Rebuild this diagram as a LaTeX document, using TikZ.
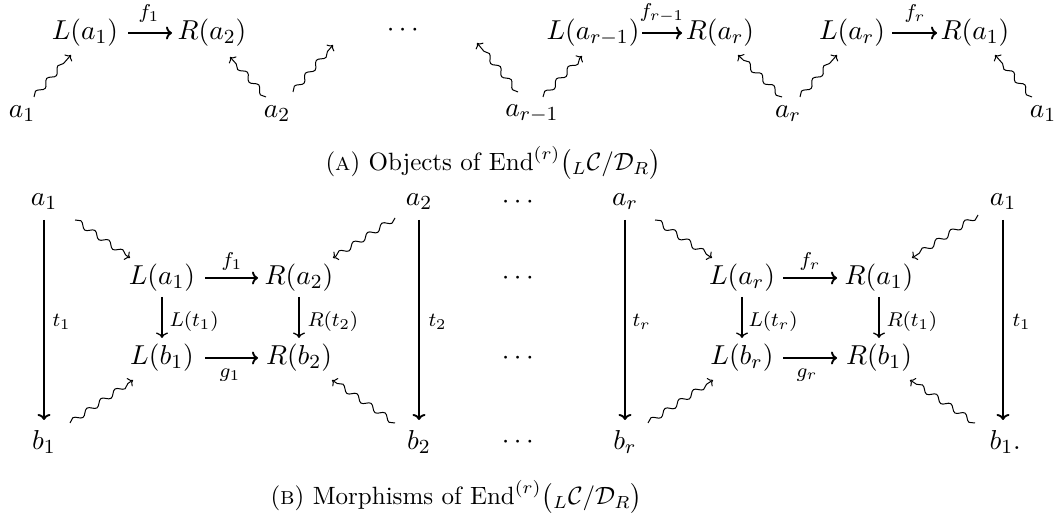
\documentclass[tikz,border=0pt]{standalone}
\usepackage{fontspec}
\usepackage{amsmath}
\usetikzlibrary{decorations.pathmorphing,calc,arrows.meta}
\tikzset{
  obj/.style={inner sep=0pt, font=\fontsize{10.95}{13}\selectfont},
  lbl/.style={inner sep=0pt, font=\fontsize{8}{10}\selectfont},
  capt/.style={inner sep=0pt, anchor=west, font=\fontsize{10}{12}\selectfont},
  mor/.style={-{To[length=2.4pt,width=5.2pt]}, line width=0.75pt},
  smor/.style={-{To[length=2.2pt,width=4.8pt]}, line width=0.5pt},
  squig/.style={-{To[length=1.8pt,width=4pt]}, line width=0.4pt, decorate,
    decoration={snake, amplitude=1.1pt, segment length=6.8pt, post length=1.2pt}},
}
\begin{document}
\begin{tikzpicture}[x=0.4pt,y=-0.4pt]
\useasboundingbox (0,0) rectangle (1059,517);
% ---------- (A) top row
\node[obj] (La1t) at (85,33) {$L(a_1)$};
\node[obj] (Ra2t) at (212,33) {$R(a_2)$};
\node[obj] (a1t) at (22,114) {$a_1$};
\node[obj] (a2t) at (277,114) {$a_2$};
\node[obj] (dotst) at (405,30) {$\cdots$};
\node[obj] (art1) at (532,114) {$a_{r-1}$};
\node[obj] (Lart1) at (593,33) {$L(a_{r-1})$};
\node[obj] (Rart) at (720,33) {$R(a_r)$};
\node[obj] (art) at (788,114) {$a_r$};
\node[obj] (Lart) at (852,33) {$L(a_r)$};
\node[obj] (Ra1t) at (975,33) {$R(a_1)$};
\node[obj] (a1tr) at (1043,114) {$a_1$};
\coordinate (fe1) at (333,45);
\coordinate (fe2) at (477,43);
\node[lbl] (lf1t) at (149,14) {$f_1$};
\node[lbl] (lfr1t) at (662,13) {$f_{r-1}$};
\node[lbl] (lfrt) at (915,14) {$f_r$};
\draw[mor] ($(La1t)+(43,0)$) -- ($(Ra2t)+(-40,0)$);
\draw[mor] ($(Lart1)+(49,0)$) -- ($(Rart)+(-38,0)$);
\draw[mor] ($(Lart)+(40,0)$) -- ($(Ra1t)+(-38,0)$);
\draw[squig] ($(a1t)+(12,-17)$) -- ($(La1t)+(-14,22)$);
\draw[squig] ($(a2t)+(-11,-17)$) -- ($(Ra2t)+(18,24)$);
\draw[squig] ($(a2t)+(16,-22)$) -- (fe1);
\draw[squig] ($(art1)+(-14,-22)$) -- (fe2);
\draw[squig] ($(art1)+(11,-17)$) -- ($(Lart1)+(-11,23)$);
\draw[squig] ($(art)+(-6,-17)$) -- ($(Rart)+(18,22)$);
\draw[squig] ($(art)+(12,-17)$) -- ($(Lart)+(-15,22)$);
\draw[squig] ($(a1tr)+(-11,-17)$) -- ($(Ra1t)+(20,22)$);
\node[capt] (capA) at (325,163) {(\textsc{a}) Objects of $\operatorname{End}^{(r)}\bigl({}_{L}\mathcal{C}/\mathcal{D}_{R}\bigr)$};
% ---------- (B) bottom
\node[obj] (a1b) at (44,202) {$a_1$};
\node[obj] (b1b) at (44,442) {$b_1$};
\node[obj] (La1b) at (162,278) {$L(a_1)$};
\node[obj] (Ra2b) at (299,278) {$R(a_2)$};
\node[obj] (Lb1b) at (162,358) {$L(b_1)$};
\node[obj] (Rb2b) at (299,358) {$R(b_2)$};
\node[obj] (a2b) at (419,202) {$a_2$};
\node[obj] (b2b) at (419,442) {$b_2$};
\node[obj] (d1) at (520,202) {$\cdots$};
\node[obj] (d2) at (520,278) {$\cdots$};
\node[obj] (d3) at (520,358) {$\cdots$};
\node[obj] (d4) at (520,442) {$\cdots$};
\node[obj] (arb) at (625,202) {$a_r$};
\node[obj] (brb) at (625,442) {$b_r$};
\node[obj] (Larb) at (742,278) {$L(a_r)$};
\node[obj] (Ra1b) at (879,278) {$R(a_1)$};
\node[obj] (Lbrb) at (742,358) {$L(b_r)$};
\node[obj] (Rb1b) at (879,358) {$R(b_1)$};
\node[obj] (a1br) at (1003,202) {$a_1$};
\node[obj,anchor=west] (b1br) at (989,442) {$b_1.$};
% labels
\node[lbl] (lf1b) at (232,262) {$f_1$};
\node[lbl] (lg1b) at (230,375) {$g_1$};
\node[lbl] (lfrb) at (810,262) {$f_r$};
\node[lbl] (lgrb) at (807,375) {$g_r$};
\node[lbl,anchor=west] (lt1) at (52,322) {$t_1$};
\node[lbl,anchor=west] (lLt1) at (169,322) {$L(t_1)$};
\node[lbl,anchor=west] (lRt2) at (307,322) {$R(t_2)$};
\node[lbl,anchor=west] (lt2) at (428,322) {$t_2$};
\node[lbl,anchor=west] (ltr) at (632,322) {$t_r$};
\node[lbl,anchor=west] (lLtr) at (748,322) {$L(t_r)$};
\node[lbl,anchor=west] (lRt1) at (886,322) {$R(t_1)$};
\node[lbl,anchor=west] (lt1r) at (1012,322) {$t_1$};
% arrows
\draw[mor] ($(a1b)+(0,18)$) -- ($(b1b)+(0,-22)$);
\draw[mor] ($(a2b)+(0,18)$) -- ($(b2b)+(0,-22)$);
\draw[mor] ($(arb)+(0,18)$) -- ($(brb)+(0,-22)$);
\draw[mor] ($(a1br)+(0,18)$) -- ($(a1br |- b1br)+(0,-22)$);
\draw[smor] ($(La1b)+(0,19)$) -- ($(Lb1b)+(0,-20)$);
\draw[smor] ($(Ra2b)+(0,19)$) -- ($(Rb2b)+(0,-20)$);
\draw[smor] ($(Larb)+(0,19)$) -- ($(Lbrb)+(0,-20)$);
\draw[smor] ($(Ra1b)+(0,19)$) -- ($(Rb1b)+(0,-20)$);
\draw[mor] ($(La1b)+(43,0)$) -- ($(Ra2b)+(-41,0)$);
\draw[mor] ($(Lb1b)+(43,0)$) -- ($(Rb2b)+(-41,0)$);
\draw[mor] ($(Larb)+(41,0)$) -- ($(Ra1b)+(-42,0)$);
\draw[mor] ($(Lbrb)+(41,0)$) -- ($(Rb1b)+(-42,0)$);
\draw[squig] ($(a1b)+(31,18)$) -- ($(La1b)+(-32,-20)$);
\draw[squig] ($(a2b)+(-24,16)$) -- ($(Ra2b)+(34,-20)$);
\draw[squig] ($(b1b)+(26,-19)$) -- ($(Lb1b)+(-29,22)$);
\draw[squig] ($(b2b)+(-24,-19)$) -- ($(Rb2b)+(33,22)$);
\draw[squig] ($(arb)+(30,18)$) -- ($(Larb)+(-30,-20)$);
\draw[squig] ($(a1br)+(-25,13)$) -- ($(Ra1b)+(33,-20)$);
\draw[squig] ($(brb)+(23,-19)$) -- ($(Lbrb)+(-29,22)$);
\draw[squig] ($(b1br.west)+(-14,-19)$) -- ($(Rb1b)+(31,22)$);
\node[capt] (capB) at (270,497) {(\textsc{b}) Morphisms of $\operatorname{End}^{(r)}\bigl({}_{L}\mathcal{C}/\mathcal{D}_{R}\bigr)$};
\end{tikzpicture}
\end{document}
